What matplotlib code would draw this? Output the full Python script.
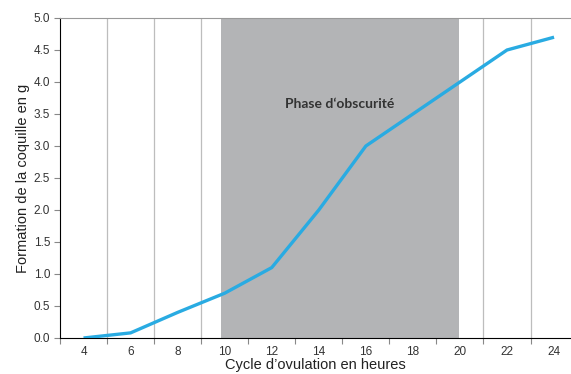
import numpy as np
import matplotlib.pyplot as plt

# cycle d'ovulation (heures) et formation de la coquille (g)
heures = [4, 6, 8, 10, 12, 14, 16, 18, 20, 22, 24]
coquille = [0.0, 0.08, 0.4, 0.7, 1.1, 2.0, 3.0, 3.5, 4.0, 4.5, 4.7]
obscurite = (9.85, 19.95)

fig = plt.figure(figsize=(5.71, 3.74), dpi=100)
ax = fig.add_axes([60 / 571, 36 / 374, 511 / 571, 320 / 374])

# bande de la phase d'obscurité
ax.axvspan(obscurite[0], obscurite[1], color='#b3b4b6', zorder=1, lw=0)

# grille verticale entre les catégories
for h in [5, 7, 9, 21, 23]:
    ax.axvline(h, color='#bdbdbd', lw=0.9, zorder=0)

ax.plot(heures, coquille, color='#29abe2', lw=2.4, zorder=3, solid_capstyle='butt')

ax.text(14.9, 3.65, 'Phase d\u2018obscurit\u00e9', ha='center', va='center',
        fontsize=10, fontweight='bold', family='Lato', color='#333333', zorder=4)

ax.set_xlim(3, 24.72)
ax.set_ylim(0, 5)

ax.set_xticks(np.arange(3, 25, 2))
ax.set_xticklabels([])
ax.set_xticks(heures, minor=True)
ax.set_xticklabels([str(h) for h in heures], minor=True)
ax.tick_params(axis='x', which='major', length=4, color='#888888')
ax.tick_params(axis='x', which='minor', length=0, pad=6)
ax.set_yticks(np.arange(0, 5.01, 0.5))
ax.set_yticklabels([f'{v:.1f}' for v in np.arange(0, 5.01, 0.5)])
ax.tick_params(axis='y', length=4, color='#888888', pad=3)
for lab in ax.get_xticklabels(minor=True) + ax.get_yticklabels():
    lab.set_fontsize(8.5)
    lab.set_color('#333333')
    lab.set_family('Liberation Sans')

ax.spines['left'].set_color('black')
ax.spines['bottom'].set_color('black')
ax.spines['top'].set_color('#999999')
ax.spines['right'].set_visible(False)

ax.set_xlabel('Cycle d\u2019ovulation en heures', fontsize=10.5, family='Liberation Sans',
              color='#222222', labelpad=0)
ax.set_ylabel('Formation de la coquille en g', fontsize=10.5, family='Liberation Sans',
              color='#222222', labelpad=3)

fig.savefig('out.png', dpi=100)
